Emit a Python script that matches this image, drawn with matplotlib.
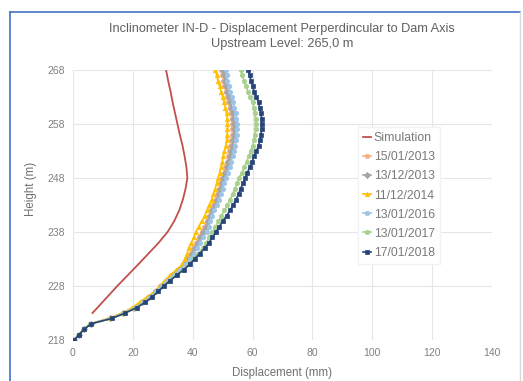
import matplotlib.pyplot as plt
from matplotlib.lines import Line2D

plt.rcParams['font.family'] = ['Liberation Sans', 'DejaVu Sans']

# heights of inclinometer readings (m)
heights = list(range(218, 269))

# displacement readings (mm), one value per height above
d_2013a = [0.5, 1.9, 3.7, 5.8, 12.2, 16.6, 20.0, 22.7, 25.1, 27.4, 29.2, 31.0, 32.9, 34.9, 36.9, 38.0, 39.1,
           40.1, 41.1, 42.0, 43.0, 43.9, 44.7, 45.4, 46.1, 46.8, 47.5, 48.1, 48.7, 49.2, 49.7, 50.3, 50.9,
           51.4, 51.8, 52.2, 52.6, 52.9, 53.1, 53.2, 53.2, 53.0, 52.7, 52.3, 51.9, 51.4, 51.0, 50.6, 50.2,
           49.9, 49.6]
d_2013b = [0.5, 1.9, 3.7, 5.9, 12.4, 16.8, 20.3, 23.0, 25.4, 27.6, 29.4, 31.2, 33.2, 35.2, 37.2, 38.4, 39.6,
           40.6, 41.6, 42.6, 43.6, 44.5, 45.2, 45.9, 46.6, 47.3, 48.0, 48.7, 49.2, 49.7, 50.2, 50.8, 51.4,
           51.9, 52.4, 52.8, 53.2, 53.5, 53.7, 53.8, 53.8, 53.6, 53.3, 52.9, 52.5, 52.0, 51.6, 51.2, 50.8,
           50.5, 50.2]
d_2014 = [0.4, 1.8, 3.6, 5.8, 12.0, 16.5, 19.8, 22.3, 24.8, 27.4, 29.0, 30.6, 32.4, 34.6, 36.5, 37.3, 38.1,
          38.6, 39.5, 40.3, 41.0, 42.0, 43.0, 44.0, 44.8, 45.6, 46.3, 46.9, 47.5, 48.0, 48.5, 49.0, 49.5,
          49.9, 50.2, 50.6, 51.0, 51.3, 51.5, 51.6, 51.6, 51.5, 51.3, 50.9, 50.5, 50.0, 49.5, 49.0, 48.4,
          48.0, 47.6]
d_2016 = [0.5, 2.0, 3.7, 5.9, 12.6, 17.0, 20.6, 23.5, 25.8, 27.8, 29.6, 31.5, 33.6, 35.6, 37.6, 39.0, 40.4,
          41.5, 42.4, 43.3, 44.8, 45.6, 45.7, 46.4, 47.2, 48.0, 48.7, 49.4, 50.0, 50.5, 51.0, 51.7, 52.3,
          52.8, 53.3, 53.8, 54.2, 54.5, 54.7, 54.8, 54.8, 54.6, 54.3, 53.9, 53.5, 53.0, 52.5, 52.0, 51.6,
          51.3, 51.0]
d_2017 = [0.4, 1.8, 3.6, 5.8, 12.8, 17.2, 21.0, 24.0, 26.2, 28.2, 30.0, 32.2, 34.3, 36.6, 38.6, 40.2, 41.8,
          43.3, 44.5, 45.6, 46.6, 47.6, 48.6, 49.6, 50.6, 51.6, 52.5, 53.3, 54.1, 54.8, 55.5, 56.4, 57.3,
          58.0, 58.7, 59.4, 60.0, 60.5, 60.8, 61.0, 61.0, 61.0, 60.8, 60.4, 60.0, 59.2, 58.5, 57.8, 57.2,
          56.5, 56.0]
d_2018 = [0.5, 2.0, 3.8, 6.0, 13.0, 17.5, 21.3, 24.2, 26.5, 28.5, 30.3, 32.5, 34.6, 37.0, 39.0, 40.6, 42.3,
          44.0, 45.4, 46.6, 47.8, 48.9, 50.0, 51.3, 52.5, 53.5, 54.5, 55.3, 56.0, 56.8, 57.6, 58.3, 59.0,
          59.8, 60.5, 61.3, 62.0, 62.5, 62.8, 63.0, 63.0, 63.0, 62.8, 62.4, 62.0, 61.3, 60.5, 60.0, 59.5,
          59.0, 58.6]

# simulation curve
sim_heights = [223, 224, 226, 228, 230, 232, 234, 236, 238, 240, 242, 244, 246, 248, 250, 252, 254, 256,
               258, 260, 262, 264, 266, 268]
sim_disp = [6.5, 8.2, 11.5, 14.8, 18.3, 21.8, 25.2, 28.6, 31.6, 33.8, 35.5, 36.7, 37.6, 38.2, 37.9, 37.3,
            36.6, 35.7, 34.9, 34.1, 33.3, 32.6, 31.8, 31.1]

labels = ['15/01/2013', '13/12/2013', '11/12/2014', '13/01/2016', '13/01/2017', '17/01/2018']
series = [d_2013a, d_2013b, d_2014, d_2016, d_2017, d_2018]
colors = ['#F4B183', '#A5A5A5', '#FFC000', '#9DC3E6', '#A9D18E', '#264478']
markers = ['o', 'D', '^', 'o', 'o', 's']

fig = plt.figure(figsize=(5.23, 3.81), dpi=100)
ax = fig.add_axes([73 / 523, 1 - 340 / 381, 419 / 523, 270 / 381])

ax.plot(sim_disp, sim_heights, color='#C0504D', linewidth=1.3, label='Simulation', zorder=3)
for vals, lab, c, m in zip(series, labels, colors, markers):
    ax.plot(vals, heights, color=c, linewidth=1.2, marker=m, markersize=3.2,
            markeredgewidth=0.5, label=lab, zorder=2)

ax.set_xlim(0, 140)
ax.set_ylim(218, 268)
ax.set_xticks(range(0, 141, 20))
ax.set_yticks(range(218, 269, 10))
ax.grid(color='#E6E6E6', linewidth=0.8)
ax.set_axisbelow(True)
for s in ax.spines.values():
    s.set_visible(False)
ax.tick_params(length=0, labelsize=7.5, labelcolor='#808080', pad=6)

ax.set_xlabel('Displacement (mm)', fontsize=8.3, color='#707070', labelpad=6)
ax.set_ylabel('Height (m)', fontsize=8.3, color='#707070', labelpad=4)
ax.yaxis.set_label_coords(-0.085, 0.56)

fig.text(282 / 523, 1 - 29 / 381, 'Inclinometer IN-D - Displacement Perperdincular to Dam Axis',
         ha='center', va='center', fontsize=9.2, color='#606060')
fig.text(282 / 523, 1 - 44 / 381, 'Upstream Level: 265,0 m',
         ha='center', va='center', fontsize=9.2, color='#606060')

leg = ax.legend(loc='upper left', bbox_to_anchor=(0.665, 0.81), fontsize=8.8, frameon=True,
                handlelength=0.7, handletextpad=0.2, labelspacing=0.58, borderpad=0.4,
                fancybox=False, edgecolor='#F2F2F2', framealpha=1)
for t in leg.get_texts():
    t.set_color('#7A7A7A')

# outer chart border
fig.add_artist(Line2D([10 / 523, 10 / 523], [0, 1 - 12 / 381], color='#4472C4', linewidth=1.2))
fig.add_artist(Line2D([10 / 523, 520 / 523], [1 - 12 / 381, 1 - 12 / 381], color='#4472C4', linewidth=1.2))
fig.add_artist(Line2D([520 / 523, 520 / 523], [0, 1 - 12 / 381], color='#D9D9D9', linewidth=1.0))

fig.savefig('out.png', dpi=100)
